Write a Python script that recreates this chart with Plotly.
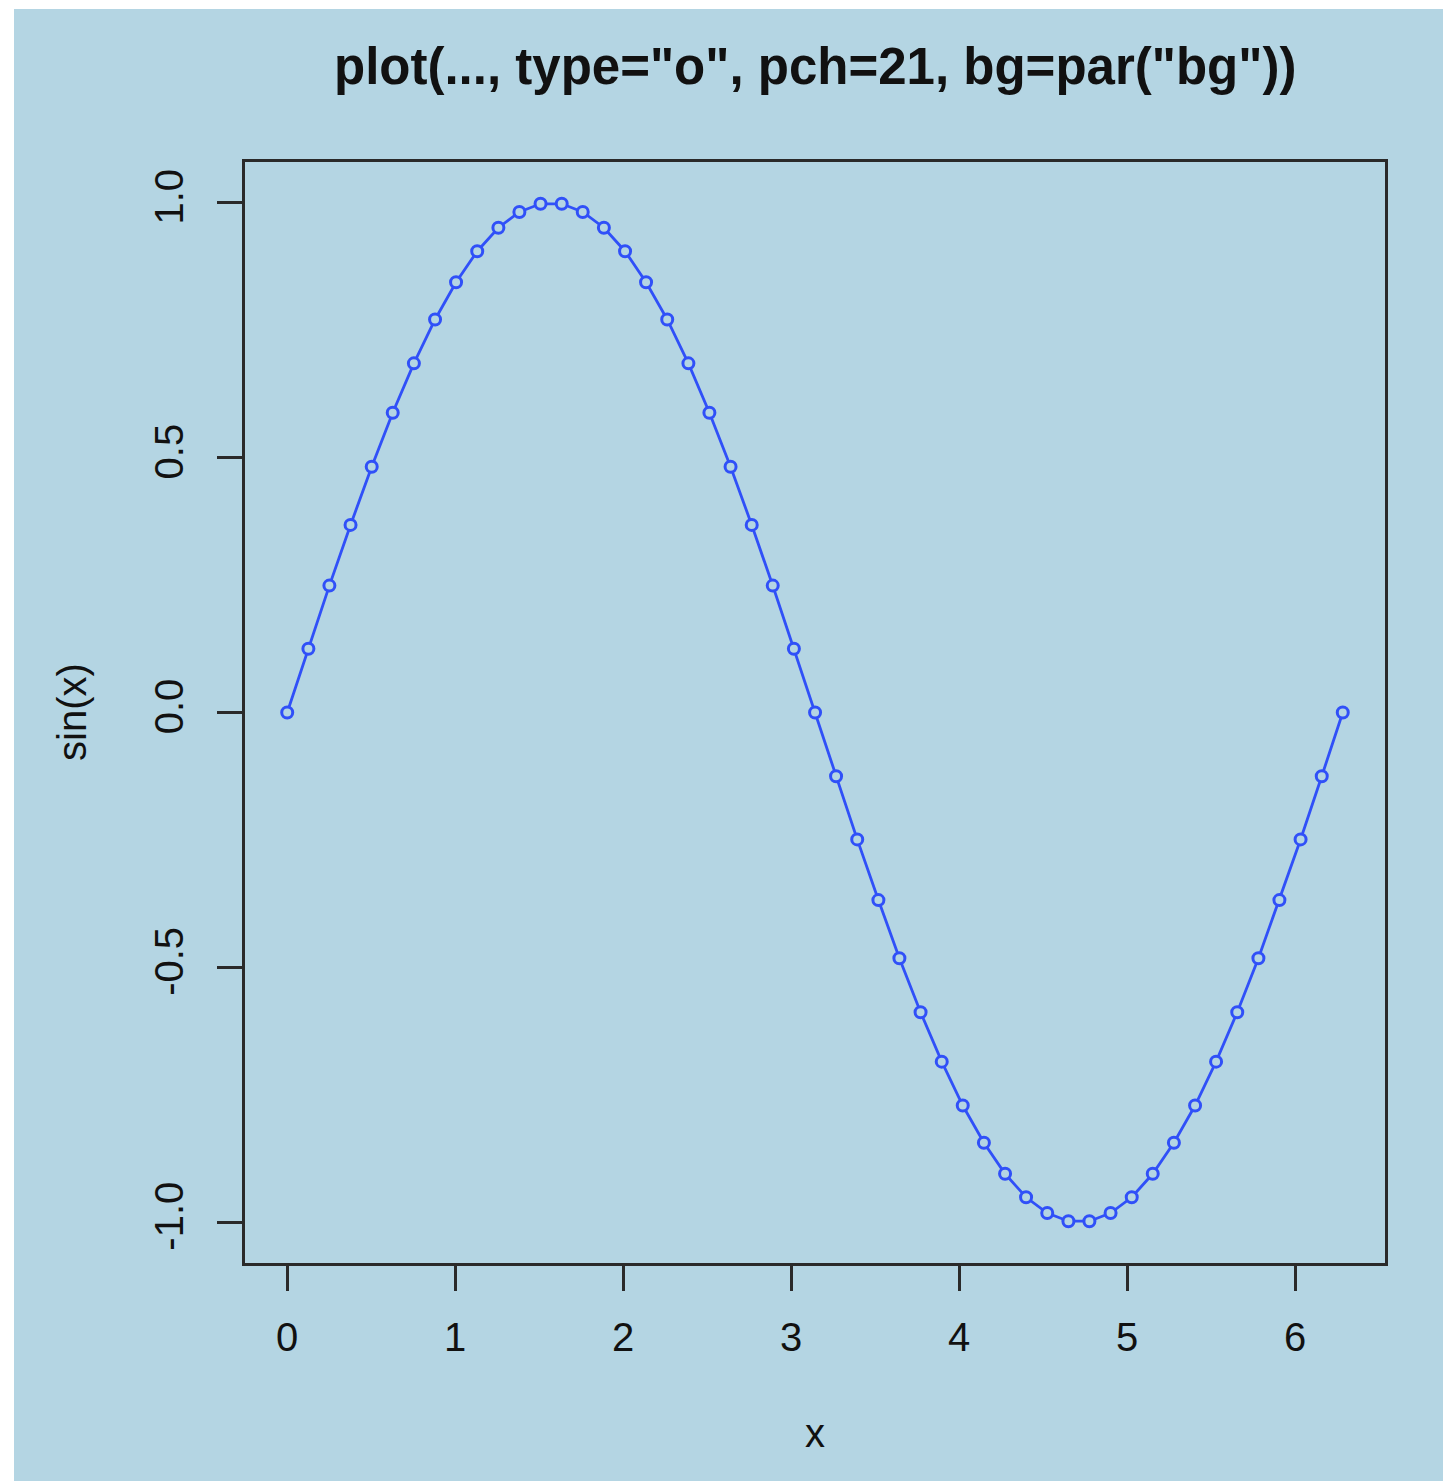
import plotly.graph_objects as go

x_vals = [0.000, 0.126, 0.251, 0.377, 0.503, 0.628, 0.754, 0.880, 1.005, 1.131,
          1.257, 1.382, 1.508, 1.634, 1.759, 1.885, 2.011, 2.136, 2.262, 2.388,
          2.513, 2.639, 2.765, 2.890, 3.016, 3.142, 3.267, 3.393, 3.519, 3.644,
          3.770, 3.896, 4.021, 4.147, 4.273, 4.398, 4.524, 4.650, 4.775, 4.901,
          5.027, 5.152, 5.278, 5.404, 5.529, 5.655, 5.781, 5.906, 6.032, 6.158,
          6.283]
y_vals = [0.000, 0.125, 0.249, 0.368, 0.482, 0.588, 0.685, 0.771, 0.844, 0.905,
          0.951, 0.982, 0.998, 0.998, 0.982, 0.951, 0.905, 0.844, 0.771, 0.685,
          0.588, 0.482, 0.368, 0.249, 0.125, 0.000, -0.125, -0.249, -0.368, -0.482,
          -0.588, -0.685, -0.771, -0.844, -0.905, -0.951, -0.982, -0.998, -0.998, -0.982,
          -0.951, -0.905, -0.844, -0.771, -0.685, -0.588, -0.482, -0.368, -0.249, -0.125,
          0.000]
x_ticks = [0, 1, 2, 3, 4, 5, 6]
y_ticks = [-1.0, -0.5, 0.0, 0.5, 1.0]
y_tick_text = ["-1.0", "-0.5", "0.0", "0.5", "1.0"]
title_text = 'plot(..., type="o", pch=21, bg=par("bg"))'

BG = "#B4D5E3"
LINE = "#3050F8"
AX = "#2a2a2a"
FONT = "Liberation Sans, Arial, Helvetica, sans-serif"

W, H = 1443, 1481
L, R, T, B = 245, 1385, 162, 1263
pw, ph = R - L, B - T

def px_x(p):
    return (p - L) / pw

def px_y(p):
    return (B - p) / ph

fig = go.Figure()
fig.add_trace(go.Scatter(
    x=x_vals, y=y_vals, mode="lines+markers",
    line=dict(color=LINE, width=2.8),
    marker=dict(symbol="circle", size=11, color=BG,
                line=dict(color=LINE, width=3)),
    showlegend=False, hoverinfo="x+y",
))

fig.update_layout(
    width=W, height=H,
    margin=dict(l=L, r=W - R, t=T, b=H - B, pad=0),
    paper_bgcolor=BG, plot_bgcolor=BG,
    font=dict(family=FONT, size=40, color="#111111"),
    showlegend=False,
    shapes=[
        dict(type="rect", xref="paper", yref="paper",
             x0=px_x(-5), x1=px_x(14), y0=px_y(H + 5), y1=px_y(-5),
             fillcolor="white", line=dict(width=0), layer="below"),
        dict(type="rect", xref="paper", yref="paper",
             x0=px_x(-5), x1=px_x(W + 5), y0=px_y(9), y1=px_y(-5),
             fillcolor="white", line=dict(width=0), layer="below"),
    ],
    annotations=[
        dict(text="<b>" + title_text + "</b>", xref="paper", yref="paper",
             x=0.5, y=px_y(66), xanchor="center", yanchor="middle",
             showarrow=False, font=dict(size=51, family=FONT, color="#111111")),
        dict(text="x", xref="paper", yref="paper",
             x=0.5, y=px_y(1433), xanchor="center", yanchor="middle",
             showarrow=False, font=dict(size=40, family=FONT, color="#111111")),
        dict(text="sin(x)", xref="paper", yref="paper",
             x=px_x(72), y=px_y(712), xanchor="center", yanchor="middle",
             textangle=-90,
             showarrow=False, font=dict(size=40, family=FONT, color="#111111")),
    ],
)

fig.update_xaxes(
    range=[-0.2513, 6.5345], tickmode="array", tickvals=x_ticks,
    ticktext=[str(t) for t in x_ticks],
    ticks="outside", ticklen=25, tickwidth=2.5, tickcolor=AX,
    showline=True, linecolor=AX, linewidth=2.5, mirror=True,
    showgrid=False, zeroline=False, ticklabelstandoff=12,
    tickfont=dict(size=40, family=FONT, color="#111111"),
)
fig.update_yaxes(
    range=[-1.08, 1.08], tickmode="array", tickvals=y_ticks, ticktext=y_tick_text,
    ticks="outside", ticklen=25, tickwidth=2.5, tickcolor=AX,
    showline=True, linecolor=AX, linewidth=2.5, mirror=True,
    showgrid=False, zeroline=False, tickangle=-90, ticklabelstandoff=18,
    tickfont=dict(size=40, family=FONT, color="#111111"),
)

fig.write_html("out.html", config={"displayModeBar": False},
               post_script="document.body.style.margin='0';")
